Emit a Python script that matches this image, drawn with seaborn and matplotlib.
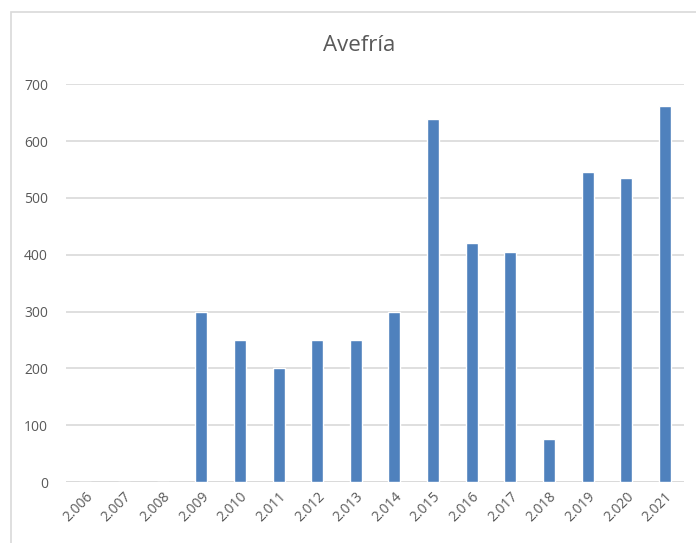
import matplotlib
matplotlib.use("Agg")
import matplotlib.pyplot as plt
import seaborn as sns
import pandas as pd
from matplotlib.patches import Rectangle

years = ["2.006", "2.007", "2.008", "2.009", "2.010", "2.011", "2.012", "2.013",
         "2.014", "2.015", "2.016", "2.017", "2.018", "2.019", "2.020", "2.021"]
counts = [0, 0, 0, 300, 250, 200, 250, 250, 300, 638, 420, 405, 76, 545, 535, 662]
y_ticks = [0, 100, 200, 300, 400, 500, 600, 700]
title = "Avefría"

sns.set_theme(style="white")
plt.rcParams["font.family"] = ["Open Sans", "DejaVu Sans"]

df = pd.DataFrame({"year": pd.Categorical(years, categories=years), "count": counts})

fig = plt.figure(figsize=(6.96, 5.43), dpi=100)
ax = fig.add_axes([0.095, 0.112, 0.888, 0.733])

sns.barplot(data=df, x="year", y="count", order=years, color="#4F81BD",
            saturation=1, width=0.31, ax=ax, zorder=3)

ax.set_ylim(0, 700)
ax.set_xlim(-0.5, len(years) - 0.5)
ax.set_yticks(y_ticks)
ax.set_yticklabels([str(v) for v in y_ticks])
ax.set_xticks(range(len(years)))
ax.set_xticklabels(years, rotation=45, ha="right", rotation_mode="anchor")
ax.yaxis.grid(True, color="#D9D9D9", linewidth=1.2, zorder=0)
ax.xaxis.grid(False)
for s in ax.spines.values():
    s.set_visible(False)
ax.axhline(0, color="#D9D9D9", linewidth=1.2, zorder=1)

ax.set_xlabel("")
ax.set_ylabel("")
ax.tick_params(axis="both", length=0, colors="#595959", labelsize=10)
ax.tick_params(axis="y", pad=13)
ax.tick_params(axis="x", pad=5)

fig.text(0.516, 0.917, title, ha="center", va="center", fontsize=16, color="#595959")

# chart frame
fig.add_artist(Rectangle((11 / 696, -0.01), 1.0, 1 - 12 / 543 + 0.01,
                         transform=fig.transFigure, fill=False,
                         edgecolor="#D9D9D9", linewidth=1.2))

fig.savefig("out.png", dpi=100)
